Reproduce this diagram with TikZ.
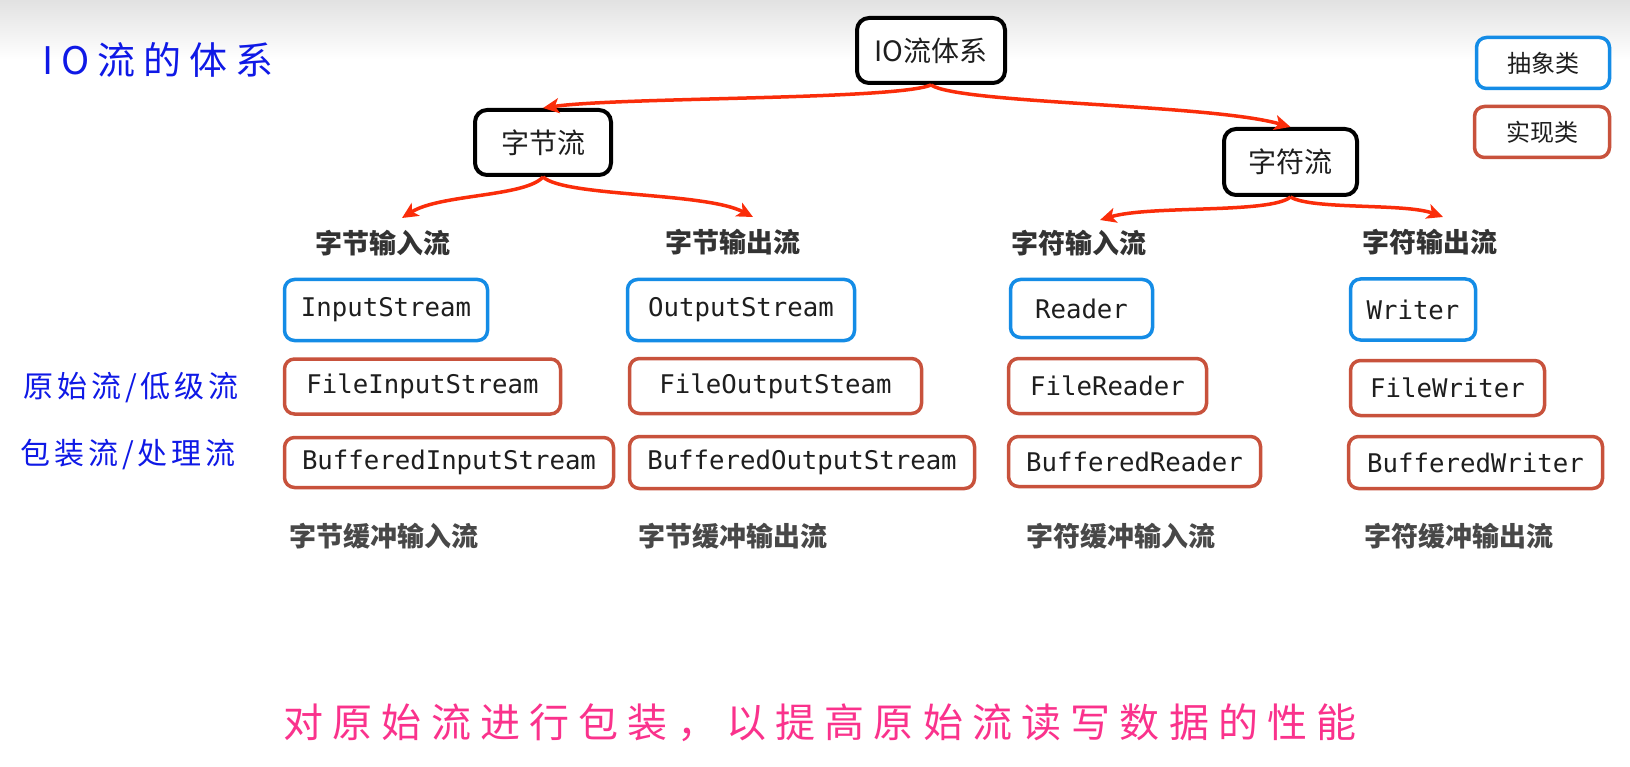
\documentclass[tikz,border=0pt]{standalone}
\usepackage{fontspec}
\usetikzlibrary{arrows.meta}
\newfontfamily\cjk{Noto Sans CJK SC}
\newfontfamily\code{DejaVu Sans Mono}
\newfontfamily\handA{Noto Sans CJK SC}[LetterSpace=21]
\newfontfamily\handB{Noto Sans CJK SC}[LetterSpace=13]
\newfontfamily\handC{Noto Sans CJK SC}[LetterSpace=23]
\definecolor{absblue}{RGB}{20,140,230}
\definecolor{implred}{RGB}{200,82,60}
\definecolor{arrred}{RGB}{250,45,10}
\definecolor{titleblue}{RGB}{15,25,230}
\definecolor{pinktxt}{RGB}{250,50,140}
\definecolor{txtdark}{RGB}{30,30,30}
\definecolor{headgray}{RGB}{51,51,51}
\definecolor{subgray}{RGB}{72,72,72}
\definecolor{topgray}{RGB}{226,226,226}
\tikzset{
  cat/.style={draw=black, line width=4pt, rounded corners=12pt, fill=white,
    font=\cjk\fontsize{28}{30}\selectfont, text=txtdark, inner sep=0pt},
  absbox/.style={draw=absblue, line width=3.5pt, rounded corners=10pt, fill=white,
    font=\code\fontsize{25.7}{28}\selectfont, text=txtdark, inner sep=0pt},
  implbox/.style={draw=implred, line width=3.5pt, rounded corners=10pt, fill=white,
    font=\code\fontsize{25.7}{28}\selectfont, text=txtdark, inner sep=0pt},
  head/.style={font=\cjk\bfseries\fontsize{27}{30}\selectfont, text=headgray, inner sep=0pt},
  sub/.style={font=\cjk\bfseries\fontsize{27}{30}\selectfont, text=subgray, inner sep=0pt},
  arr/.style={draw=arrred, line width=3.5pt, -{Stealth[length=16pt,width=15pt,inset=4pt]}},
}
\begin{document}
\begin{tikzpicture}[x=1pt,y=-1pt]
\useasboundingbox (0,0) rectangle (1630,767);
\fill[white] (0,0) rectangle (1630,767);
\shade[top color=topgray, bottom color=white] (0,0) rectangle (1630,60);

% title and side labels
\node[font=\handA\fontsize{38}{40}\selectfont, text=titleblue, inner sep=0pt] (title) at (158,60) {IO流的体系};
\node[font=\handB\fontsize{30}{32}\selectfont, text=titleblue, inner sep=0pt] (low) at (131,388) {原始流/低级流};
\node[font=\handB\fontsize{30}{32}\selectfont, text=titleblue, inner sep=0pt] (wrap) at (128,455) {包装流/处理流};
\node[font=\handC\fontsize{40}{42}\selectfont, text=pinktxt, inner sep=0pt] (note) at (820,723) {对原始流进行包装，以提高原始流读写数据的性能};

% category boxes
\node[cat, minimum width=148pt, minimum height=65pt] (io) at (931,50.5) {IO流体系};
\node[cat, minimum width=136pt, minimum height=65pt] (zj) at (543,142.5) {字节流};
\node[cat, minimum width=133pt, minimum height=66pt] (zf) at (1290.5,162) {字符流};

% legend
\node[absbox, font=\cjk\fontsize{24}{26}\selectfont, minimum width=133pt, minimum height=51pt] (lega) at (1543,63) {抽象类};
\node[implbox, font=\cjk\fontsize{24}{26}\selectfont, minimum width=135pt, minimum height=51pt] (legb) at (1542,132) {实现类};

% headings
\node[head] (h1) at (382.5,243) {字节输入流};
\node[head] (h2) at (733,242) {字节输出流};
\node[head] (h3) at (1079,243) {字符输入流};
\node[head] (h4) at (1430,242) {字符输出流};

% row 1: abstract classes
\node[absbox, minimum width=203pt, minimum height=61pt] (is) at (386,310) {InputStream};
\node[absbox, minimum width=227pt, minimum height=61pt] (os) at (741,310) {OutputStream};
\node[absbox, minimum width=142pt, minimum height=58pt] (rd) at (1081.5,308.5) {Reader};
\node[absbox, minimum width=125pt, minimum height=61pt] (wr) at (1413,309.5) {Writer};

% row 2
\node[implbox, minimum width=276pt, minimum height=55pt] (fis) at (422.5,386.5) {FileInputStream};
\node[implbox, minimum width=292pt, minimum height=55pt] (fos) at (775.5,386) {FileOutputSteam};
\node[implbox, minimum width=198pt, minimum height=55pt] (frd) at (1107.5,386) {FileReader};
\node[implbox, minimum width=194pt, minimum height=55pt] (fwr) at (1447.5,388) {FileWriter};

% row 3
\node[implbox, minimum width=329pt, minimum height=50pt] (bis) at (449,462.5) {BufferedInputStream};
\node[implbox, minimum width=345pt, minimum height=52pt] (bos) at (802,462.5) {BufferedOutputStream};
\node[implbox, minimum width=252pt, minimum height=50pt] (brd) at (1134.5,461.5) {BufferedReader};
\node[implbox, minimum width=254pt, minimum height=52pt] (bwr) at (1475.5,462.5) {BufferedWriter};

% bottom labels
\node[sub] (s1) at (383.5,536) {字节缓冲输入流};
\node[sub] (s2) at (733,536) {字节缓冲输出流};
\node[sub] (s3) at (1121,536) {字符缓冲输入流};
\node[sub] (s4) at (1459,536) {字符缓冲输出流};

% arrow tips near headings
\coordinate (t1) at (402,218);
\coordinate (t2) at (753,217);
\coordinate (t3) at (1100,220);
\coordinate (t4) at (1443,217);

% connectors
\draw[arr] (io.south) .. controls (895,100) and (620,97) .. (zj.north);
\draw[arr] (io.south) .. controls (960,104) and (1210,104) .. (zf.north);
\draw[arr] (zj.south) .. controls (525,197) and (440,194) .. (t1);
\draw[arr] (zj.south) .. controls (565,197) and (705,192) .. (t2);
\draw[arr] (zf.south) .. controls (1270,214) and (1150,205) .. (t3);
\draw[arr] (zf.south) .. controls (1312,210) and (1405,203) .. (t4);
\end{tikzpicture}
\end{document}
